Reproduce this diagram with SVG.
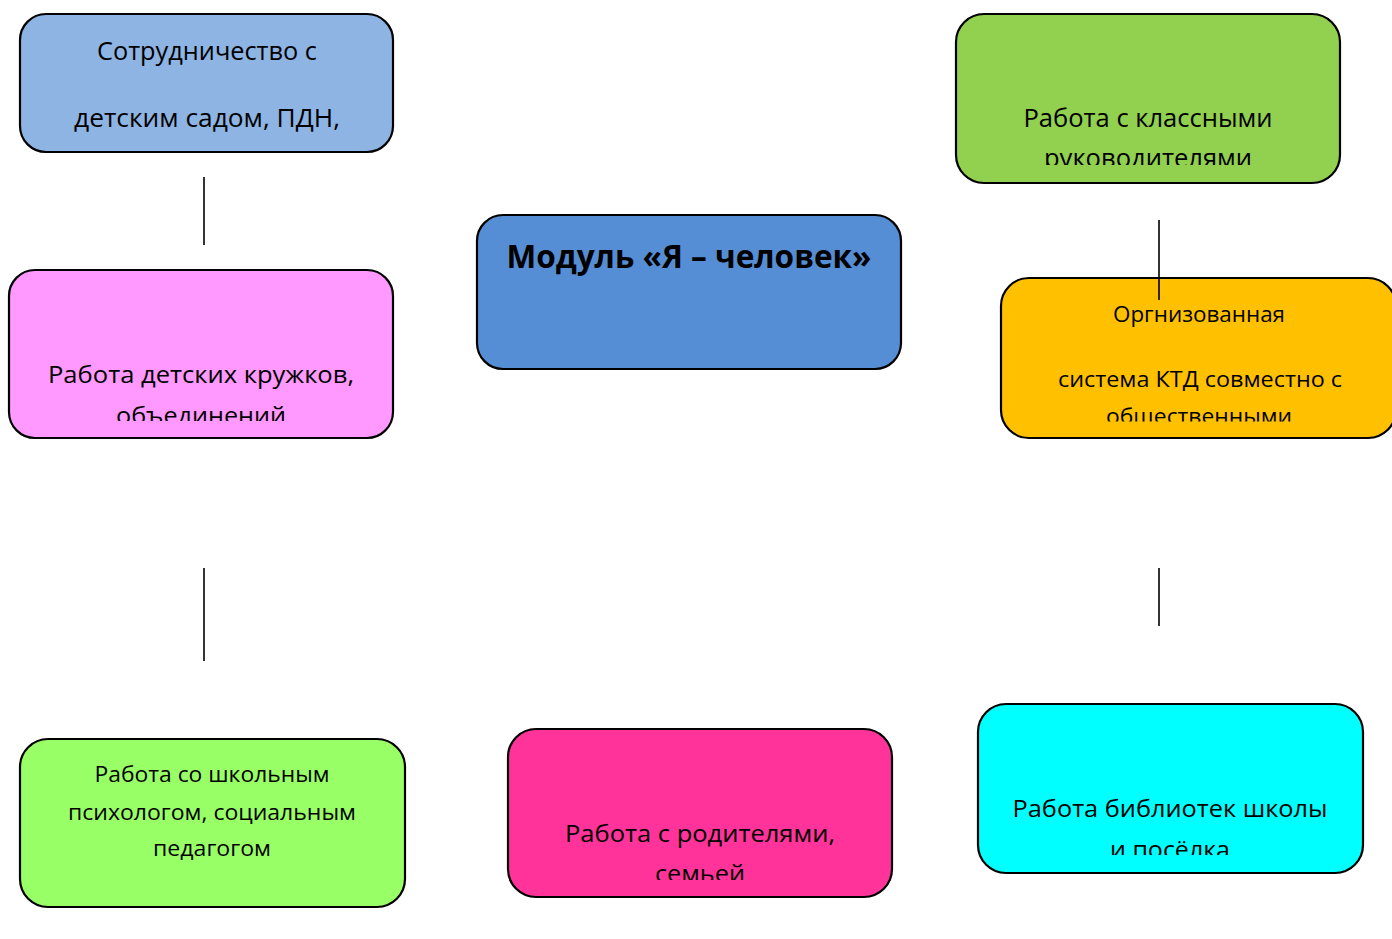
<svg xmlns="http://www.w3.org/2000/svg" width="1392" height="939" viewBox="0 0 1392 939">
<style>
.box{stroke:#000;stroke-width:2.2}
.t{font-family:"Open Sans","Noto Sans",sans-serif;fill:#000;text-anchor:middle}
.conn line{stroke:#000;stroke-width:1.6}
</style>
<defs>
<clipPath id="c1"><rect x="0" y="0" width="1392" height="421"/></clipPath>
<clipPath id="c2"><rect x="0" y="0" width="1392" height="165"/></clipPath>
<clipPath id="c3"><rect x="0" y="0" width="1392" height="421.5"/></clipPath>
<clipPath id="c4"><rect x="0" y="0" width="1392" height="880"/></clipPath>
<clipPath id="c5"><rect x="0" y="0" width="1392" height="855"/></clipPath>
</defs>
<rect width="1392" height="939" fill="#fff"/>

<g id="node-sotrudnichestvo">
<rect class="box" x="20" y="14" width="373" height="138" rx="26" fill="#8EB4E3"/>
<text class="t" font-size="25" x="207" y="60" textLength="220" lengthAdjust="spacingAndGlyphs">Сотрудничество с</text>
<text class="t" font-size="25" x="207" y="127" textLength="266" lengthAdjust="spacingAndGlyphs">детским садом, ПДН,</text>
</g>

<g id="node-kruzhki">
<rect class="box" x="9" y="270" width="384" height="168" rx="26" fill="#FF99FF"/>
<text class="t" font-size="24" x="201" y="383" textLength="306" lengthAdjust="spacingAndGlyphs">Работа детских кружков,</text>
<g clip-path="url(#c1)"><text class="t" font-size="24" x="201" y="424" textLength="170" lengthAdjust="spacingAndGlyphs">объединений</text></g>
</g>

<g id="node-modul">
<rect class="box" x="477" y="215" width="424" height="154" rx="26" fill="#558ED5"/>
<text class="t" font-size="32" font-weight="bold" x="689" y="268" textLength="365" lengthAdjust="spacingAndGlyphs">Модуль «Я – человек»</text>
</g>

<g id="node-klassnye">
<rect class="box" x="956" y="14" width="384" height="169" rx="28" fill="#92D050"/>
<text class="t" font-size="25" x="1148" y="127" textLength="249" lengthAdjust="spacingAndGlyphs">Работа с классными</text>
<g clip-path="url(#c2)"><text class="t" font-size="25" x="1148" y="167" textLength="208" lengthAdjust="spacingAndGlyphs">руководителями</text></g>
</g>

<g id="node-ktd">
<rect class="box" x="1001" y="278" width="395" height="160" rx="28" fill="#FFC000"/>
<text class="t" font-size="22" x="1199" y="322" textLength="172" lengthAdjust="spacingAndGlyphs">Оргнизованная</text>
<text class="t" font-size="22" x="1200" y="387" textLength="284" lengthAdjust="spacingAndGlyphs">система КТД совместно с</text>
<g clip-path="url(#c3)"><text class="t" font-size="22" x="1199" y="424" textLength="186" lengthAdjust="spacingAndGlyphs">общественными</text></g>
</g>

<g id="node-psiholog">
<rect class="box" x="20" y="739" width="385" height="168" rx="28" fill="#99FF66"/>
<text class="t" font-size="21" x="212" y="782" textLength="235" lengthAdjust="spacingAndGlyphs">Работа со школьным</text>
<text class="t" font-size="21" x="212" y="820" textLength="288" lengthAdjust="spacingAndGlyphs">психологом, социальным</text>
<text class="t" font-size="21" x="212" y="856" textLength="118" lengthAdjust="spacingAndGlyphs">педагогом</text>
</g>

<g id="node-roditeli">
<rect class="box" x="508" y="729" width="384" height="168" rx="28" fill="#FF3399"/>
<text class="t" font-size="24" x="700" y="842" textLength="270" lengthAdjust="spacingAndGlyphs">Работа с родителями,</text>
<g clip-path="url(#c4)"><text class="t" font-size="24" x="700" y="882" textLength="90" lengthAdjust="spacingAndGlyphs">семьей</text></g>
</g>

<g id="node-biblioteki">
<rect class="box" x="978" y="704" width="385" height="169" rx="28" fill="#00FFFF"/>
<text class="t" font-size="23" x="1170" y="817" textLength="315" lengthAdjust="spacingAndGlyphs">Работа библиотек школы</text>
<g clip-path="url(#c5)"><text class="t" font-size="23" x="1170" y="858" textLength="120" lengthAdjust="spacingAndGlyphs">и посёлка</text></g>
</g>

<g id="connectors" class="conn">
<line x1="204" y1="177" x2="204" y2="245"/>
<line x1="204" y1="568" x2="204" y2="661"/>
<line x1="1159" y1="220" x2="1159" y2="300"/>
<line x1="1159" y1="568" x2="1159" y2="626"/>
</g>
</svg>
